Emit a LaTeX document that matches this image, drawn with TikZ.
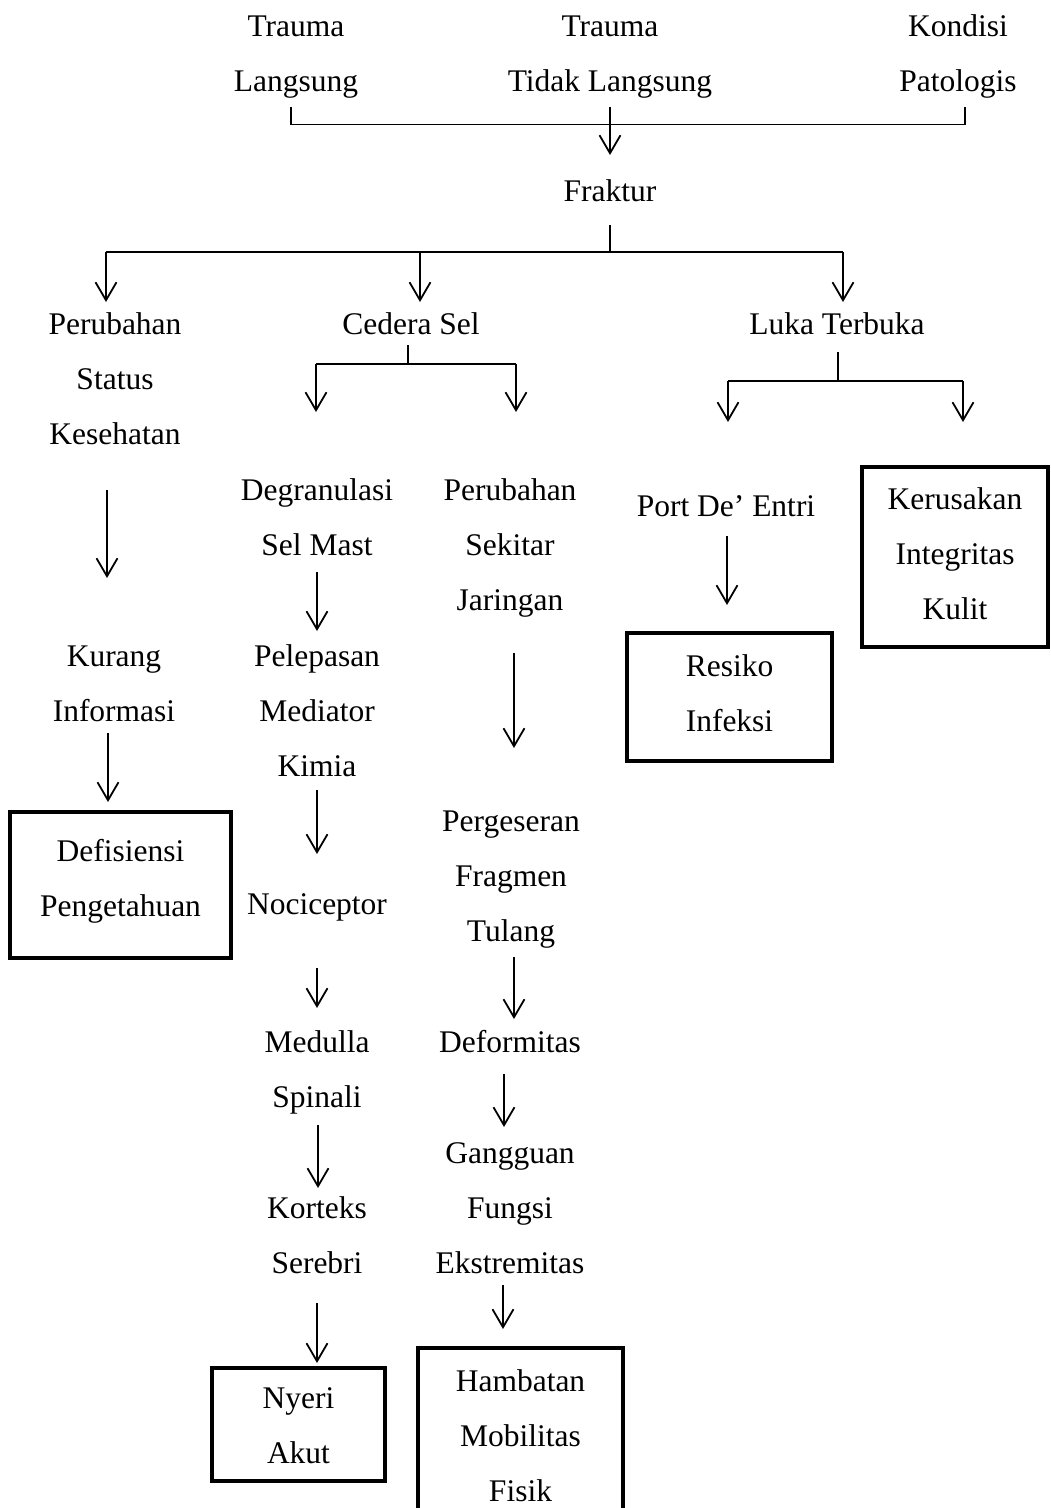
\documentclass[tikz,border=0pt]{standalone}
\usepackage{fontspec}
\setmainfont{Liberation Serif}
\usetikzlibrary{arrows.meta}
\newcommand\ls{\rule[-8pt]{0pt}{38pt}}
\begin{document}
\begin{tikzpicture}[x=1pt,y=-1pt,
  txt/.style={align=center,inner sep=0pt,outer sep=0pt,font=\fontsize{31.5}{55}\selectfont},
  boxed/.style={txt,draw,line width=4.5pt},
  ln/.style={line width=1.8pt},
  arr/.style={line width=1.8pt,-{Straight Barb[length=18pt,width=21pt]}}]
\useasboundingbox[fill=white] (0,0) rectangle (1051,1508);

% text nodes
\node[txt] (tl) at (296,53) {\ls Trauma\\\ls Langsung};
\node[txt] (tt) at (610,53) {\ls Trauma\\\ls Tidak Langsung};
\node[txt] (kp) at (958,53) {\ls Kondisi\\\ls Patologis};
\node[txt] (fr) at (610,190) {\ls Fraktur};
\node[txt] (ps) at (115,378) {\ls Perubahan\\\ls Status\\\ls Kesehatan};
\node[txt] (cs) at (411,323) {\ls Cedera Sel};
\node[txt] (lt) at (837,323) {\ls Luka Terbuka};
\node[txt] (dg) at (317,516.5) {\ls Degranulasi\\\ls Sel Mast};
\node[txt] (pj) at (510,544.5) {\ls Perubahan\\\ls Sekitar\\\ls Jaringan};
\node[txt] (pe) at (726,505) {\ls Port De’ Entri};
\node[boxed,minimum width=186pt,minimum height=180pt] (kik) at (955,557)
  {\ls Kerusakan\\\ls Integritas\\\ls Kulit\rule[-16pt]{0pt}{1pt}};
\node[boxed,minimum width=205pt,minimum height=128pt] (ri) at (729.5,697)
  {\ls Resiko\\\ls Infeksi\rule[-17pt]{0pt}{1pt}};
\node[txt] (ki) at (114,682.5) {\ls Kurang\\\ls Informasi};
\node[boxed,minimum width=221pt,minimum height=146pt] (dp) at (120.5,885)
  {\ls Defisiensi\\\ls Pengetahuan\rule[-23pt]{0pt}{1pt}};
\node[txt] (pm) at (317,710) {\ls Pelepasan\\\ls Mediator\\\ls Kimia};
\node[txt] (nc) at (317,903) {\ls Nociceptor};
\node[txt] (ms) at (317,1069) {\ls Medulla\\\ls Spinali};
\node[txt] (ks) at (317,1234.5) {\ls Korteks\\\ls Serebri};
\node[boxed,minimum width=173pt,minimum height=113pt] (na) at (298.5,1424.5)
  {\ls Nyeri\\\ls Akut};
\node[txt] (pf) at (511,875) {\ls Pergeseran\\\ls Fragmen\\\ls Tulang};
\node[txt] (df) at (510,1041) {\ls Deformitas};
\node[txt] (gf) at (510,1207) {\ls Gangguan\\\ls Fungsi\\\ls Ekstremitas};
\node[boxed,minimum width=205pt,minimum height=174pt] (hm) at (520.5,1435)
  {\ls Hambatan\\\ls Mobilitas\\\ls Fisik};

% junction coordinates
\coordinate (fj) at (610,252);
\coordinate (fl) at (106,252);
\coordinate (fm) at (420,252);
\coordinate (fr2) at (843,252);
\coordinate (cj) at (408,364);
\coordinate (cl) at (316,364);
\coordinate (cr) at (516,364);
\coordinate (lj) at (838,381);
\coordinate (ll) at (728,381);
\coordinate (lr) at (963,381);

% top bracket
\draw[ln] ([shift={(-5,7.5)}]tl.south) -- ++(0,17.5) -| ([shift={(7,7.5)}]kp.south);
\draw[arr] ([shift={(0,7.5)}]tt.south) -- ([shift={(0,-16)}]fr.north);

% Fraktur split
\draw[ln] ([shift={(0,16)}]fr.south) -- (fj);
\draw[ln] (fl) -- (fr2);
\draw[arr] (fl) -- ([shift={(-9,-2)}]ps.north);
\draw[arr] (fm) -- ([shift={(9,-2)}]cs.north);
\draw[arr] (fr2) -- ([shift={(6,-2)}]lt.north);

% Cedera Sel split
\draw[ln] ([shift={(-3,3)}]cs.south) -- (cj);
\draw[ln] (cl) -- (cr);
\draw[arr] (cl) -- ([shift={(-1,-58)}]dg.north);
\draw[arr] (cr) -- ([shift={(6,-58.5)}]pj.north);

% Luka Terbuka split
\draw[ln] ([shift={(1,10)}]lt.south) -- (lj);
\draw[ln] (ll) -- (lr);
\draw[arr] (ll) -- ([shift={(2,-64)}]pe.north);
\draw[arr] (lr) -- ([shift={(8,-45)}]kik.north);

% left column
\draw[arr] ([shift={(-8,38)}]ps.south) -- ([shift={(-7,-58)}]ki.north);
\draw[arr] ([shift={(-6,4)}]ki.south) -- ([shift={(-12.5,-10)}]dp.north);

% column 2
\draw[arr] ([shift={(0,9)}]dg.south) -- ([shift={(0,-5)}]pm.north);
\draw[arr] ([shift={(0,6)}]pm.south) -- ([shift={(0,-30)}]nc.north);
\draw[arr] ([shift={(0,46)}]nc.south) -- ([shift={(0,-14.5)}]ms.north);
\draw[arr] ([shift={(1,9.5)}]ms.south) -- ([shift={(1,0)}]ks.north);
\draw[arr] ([shift={(0,22)}]ks.south) -- ([shift={(18.5,-5)}]na.north);

% column 3
\draw[arr] ([shift={(4,34.5)}]pj.south) -- ([shift={(3,-53)}]pf.north);
\draw[arr] ([shift={(3,8)}]pf.south) -- ([shift={(4,-3)}]df.north);
\draw[arr] ([shift={(-6,14)}]df.south) -- ([shift={(-6,-6)}]gf.north);
\draw[arr] ([shift={(-7,4)}]gf.south) -- ([shift={(-17.5,-19)}]hm.north);

% right
\draw[arr] ([shift={(1,12)}]pe.south) -- ([shift={(-2.5,-28)}]ri.north);
\end{tikzpicture}
\end{document}
